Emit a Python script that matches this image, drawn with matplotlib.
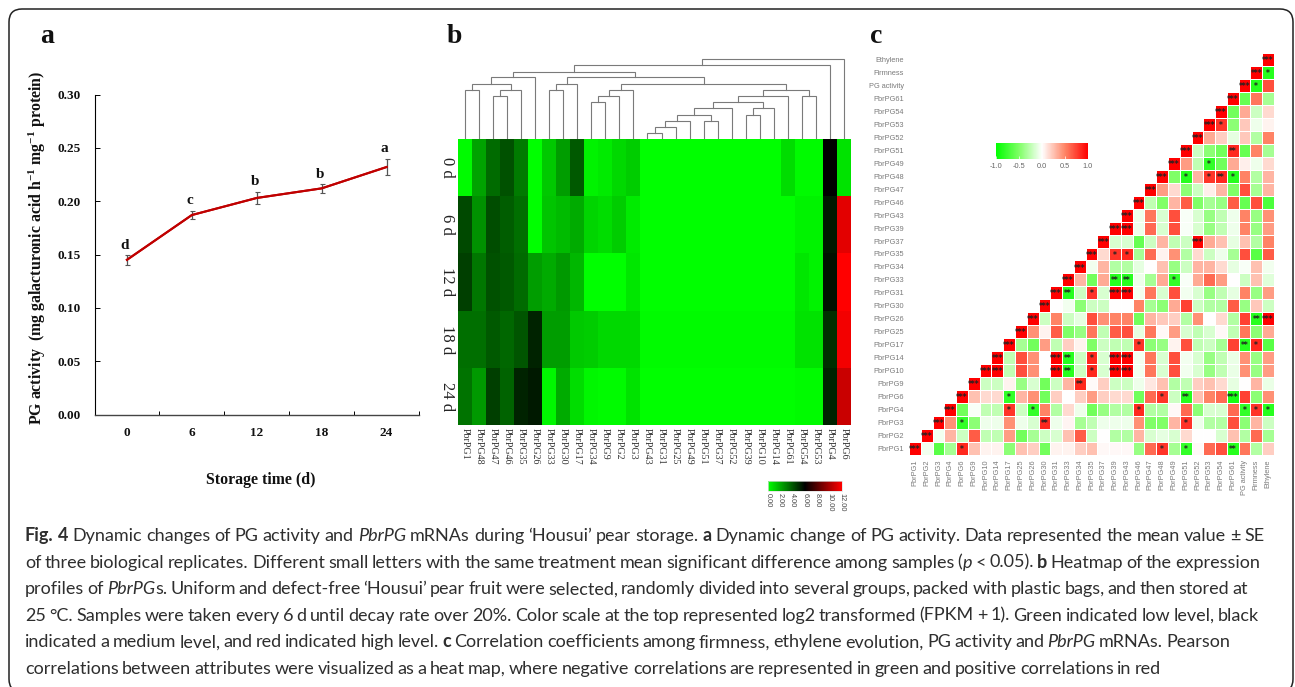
import re
import numpy as np
import matplotlib
matplotlib.use("Agg")
import matplotlib.pyplot as plt
from matplotlib.colors import LinearSegmentedColormap
from matplotlib.patches import FancyBboxPatch

W, H = 1295, 687
plt.rcParams['mathtext.default'] = 'regular'

# %% panel a data
storage_days = ['0', '6', '12', '18', '24']
pg_activity = [0.145, 0.187, 0.203, 0.212, 0.232]
pg_err = [0.0045, 0.004, 0.006, 0.004, 0.0078]
sig_letters = ['d', 'c', 'b', 'b', 'a']

# %% panel b data
hm_genes = ['PbrPG1', 'PbrPG48', 'PbrPG47', 'PbrPG46', 'PbrPG35', 'PbrPG26', 'PbrPG33',
            'PbrPG30', 'PbrPG17', 'PbrPG34', 'PbrPG9', 'PbrPG2', 'PbrPG3', 'PbrPG43',
            'PbrPG31', 'PbrPG25', 'PbrPG49', 'PbrPG51', 'PbrPG37', 'PbrPG52', 'PbrPG39',
            'PbrPG10', 'PbrPG14', 'PbrPG61', 'PbrPG54', 'PbrPG53', 'PbrPG4', 'PbrPG6']
hm_days = ['0 d', '6 d', '12 d', '18 d', '24 d']
hm_0d = [0.1, 2.2, 3.5, 4.1, 3.1, 0, 1.3, 2.3, 3.9, 0.3, 0.5, 0.9, 1.2,
         0, 0, 0, 0, 0, 0, 0, 0, 0, 0, 0.8, 0.1, 0.1, 6.0, 0.7]
hm_6d = [4.3, 2.6, 4.2, 3.8, 3.4, 0, 1.4, 1.6, 2.0, 1.0, 0.8, 1.2, 0.5,
         0, 0, 0, 0, 0, 0, 0, 0, 0, 0, 0, 0.3, 0.3, 5.4, 11.3]
hm_12d = [4.5, 3.2, 4.1, 3.9, 3.5, 2.3, 2.0, 2.4, 1.7, 0, 0, 0, 0.6,
          0, 0, 0, 0, 0, 0, 0, 0, 0, 0, 0, 0.6, 0.3, 5.6, 12.0]
hm_18d = [3.4, 3.4, 3.9, 3.6, 4.0, 5.2, 2.3, 2.3, 1.3, 1.2, 0.9, 0.9, 0.9,
          0.1, 0.1, 0.1, 0.1, 0.1, 0.1, 0.1, 0.1, 0.1, 0.1, 0.1, 0.7, 0.7, 4.9, 11.7]
hm_24d = [3.3, 2.4, 4.5, 3.7, 5.2, 5.4, 0.2, 2.0, 0.8, 0.2, 0.1, 0.1, 0.7,
          0, 0, 0, 0, 0, 0, 0, 0, 0, 0, 0, 0.1, 0.1, 5.2, 10.7]

# dendrogram: (left id, right id, height); leaves are 0-27, each merge gets the next id
dendro_merges = [(0, 1, 49), (2, 3, 42.7), (29, 4, 49), (28, 30, 55.3), (31, 5, 61.7),
                 (6, 7, 49), (33, 8, 55.3), (9, 10, 36.7), (35, 11, 42.7), (36, 12, 49),
                 (13, 14, 5.7), (38, 15, 11.7), (39, 16, 18.3), (17, 18, 18.3),
                 (40, 41, 24.3), (42, 19, 30.7), (20, 21, 24.3), (44, 22, 30.7),
                 (43, 45, 36.7), (46, 23, 42.7), (24, 25, 42.7), (47, 48, 49),
                 (37, 49, 55.3), (34, 50, 61.7), (32, 51, 67.3), (52, 26, 74), (53, 27, 79.7)]

# %% panel c data
corr_labels = ['PbrPG1', 'PbrPG2', 'PbrPG3', 'PbrPG4', 'PbrPG6', 'PbrPG9', 'PbrPG10', 'PbrPG14',
               'PbrPG17', 'PbrPG25', 'PbrPG26', 'PbrPG30', 'PbrPG31', 'PbrPG33', 'PbrPG34',
               'PbrPG35', 'PbrPG37', 'PbrPG39', 'PbrPG43', 'PbrPG46', 'PbrPG47', 'PbrPG48',
               'PbrPG49', 'PbrPG51', 'PbrPG52', 'PbrPG53', 'PbrPG54', 'PbrPG61',
               'PG activity', 'Firmness', 'Ethylene']
# upper triangle, each row starts on the diagonal
corr_rows = [
    [1, -.05, -.65, -.35, .85, .25, .05, .05, -.45, .25, .2, -.55, .05, .05, .2, .25, .03, .03, .03, -.4, .6, .8, -.35, -.8, .03, .6, .7, -.85, .55, -.3, .2],
    [1, -.05, .3, -.2, .65, -.25, -.25, .4, -.55, -.35, -.2, -.15, .25, .65, -.2, 0, -.3, -.3, .3, -.15, -.1, -.15, .15, 0, 0, -.15, .25, -.3, .6, -.35],
    [1, .45, -.8, -.45, -.07, -.07, .45, -.07, -.15, .85, -.07, .04, -.35, -.25, -.07, -.07, -.07, .45, -.5, -.5, .3, .8, -.07, -.3, -.3, .7, -.45, .3, -.2],
    [1, -.55, -.03, -.25, -.25, .8, -.2, -.8, .5, -.3, .15, -.07, -.55, -.4, -.3, -.3, .85, -.3, -.3, .03, .6, -.45, -.15, -.15, .6, -.8, .8, -.85],
    [1, .25, .15, .15, -.8, .3, .45, -.55, .2, 0, .2, .4, .2, .15, .15, -.55, .6, .8, -.2, -.85, .25, .5, .6, -.9, .75, -.45, .45],
    [1, -.2, -.2, .05, -.4, -.15, -.55, -.2, .3, .85, .02, .2, -.2, -.2, -.07, .1, .25, -.3, -.25, .2, .25, .15, -.1, 0, .3, -.08],
    [1, 1, -.25, .7, .45, 0, 1, -.85, -.2, .85, -.15, 1, 1, -.05, .55, -.15, .7, -.05, -.15, -.4, -.25, -.08, .45, -.4, .4],
    [1, -.25, .7, .45, 0, 1, -.85, -.2, .85, -.15, 1, 1, -.05, .55, -.15, .7, -.05, -.15, -.4, -.25, -.08, .45, -.4, .4],
    [1, -.35, -.55, .4, -.25, .2, .05, -.5, -.2, -.25, -.25, .8, -.45, -.4, .05, .7, -.25, -.2, -.35, .75, -.85, .85, -.65],
    [1, .45, .05, .65, -.5, -.4, .55, -.25, .65, .7, -.1, .55, .03, .4, -.15, -.25, -.15, .03, -.25, .55, -.45, .35],
    [1, -.2, .5, -.2, -.1, .7, .45, .5, .5, -.55, .3, .22, .2, -.3, .45, 0, .15, -.3, .75, -.85, 1],
    [1, 0, -.05, -.45, -.2, -.2, 0, 0, .5, -.35, -.45, .35, .75, -.2, -.3, -.3, .65, -.4, .22, -.2],
    [1, -.85, -.2, .8, -.15, 1, 1, -.05, .55, -.15, .7, -.05, -.15, -.4, -.25, -.1, .5, -.4, .4],
    [1, .3, -.55, .35, -.85, -.85, -.07, -.35, .35, -.8, -.03, .35, .6, .4, 0, -.2, .25, -.12],
    [1, -.05, .3, -.3, -.3, -.1, 0, .25, -.4, -.2, .3, .3, .15, -.1, -.03, .25, -.05],
    [1, .15, .8, .85, -.35, .6, .05, .45, -.3, .15, -.2, -.07, -.35, .7, -.65, .65],
    [1, -.15, -.15, -.6, -.2, .3, -.25, -.2, 1, .35, .25, -.1, .25, -.3, .5],
    [1, 1, -.07, .6, -.15, .7, -.03, -.15, -.4, -.25, -.07, .5, -.4, .4],
    [1, -.07, .55, -.15, .7, -.03, -.15, -.4, -.25, -.07, .5, -.4, .45],
    [1, -.25, -.5, .3, .65, -.5, -.35, -.4, .65, -.6, .7, -.7],
    [1, .4, .15, -.45, -.2, .07, .3, -.5, .7, -.35, .3],
    [1, -.5, -.85, .3, .8, .85, -.85, .5, -.3, .3],
    [1, .4, -.25, -.8, -.55, .35, .07, -.07, .15],
    [1, -.2, -.45, -.55, .85, -.6, .5, -.35],
    [1, .35, .2, -.1, .22, -.3, .5],
    [1, .8, -.45, .22, -.07, .05],
    [1, -.55, .35, -.2, .15],
    [1, -.6, .55, -.35],
    [1, -.85, .7],
    [1, -.85],
    [1],
]
# significance marks off the diagonal, the diagonal is always ***
corr_stars = {
    'PbrPG1': {'PbrPG6': '*', 'PbrPG48': '*', 'PbrPG51': '*', 'PbrPG61': '**'},
    'PbrPG3': {'PbrPG6': '*', 'PbrPG30': '**', 'PbrPG51': '*'},
    'PbrPG4': {'PbrPG17': '*', 'PbrPG26': '*', 'PbrPG46': '*', 'PG activity': '*', 'Firmness': '*', 'Ethylene': '*'},
    'PbrPG6': {'PbrPG17': '*', 'PbrPG48': '*', 'PbrPG51': '**', 'PbrPG61': '***'},
    'PbrPG9': {'PbrPG34': '**'},
    'PbrPG10': {'PbrPG14': '***', 'PbrPG31': '***', 'PbrPG33': '**', 'PbrPG35': '*', 'PbrPG39': '***', 'PbrPG43': '***'},
    'PbrPG14': {'PbrPG31': '***', 'PbrPG33': '**', 'PbrPG35': '*', 'PbrPG39': '***', 'PbrPG43': '***'},
    'PbrPG17': {'PbrPG46': '*', 'PG activity': '**', 'Firmness': '*'},
    'PbrPG26': {'Firmness': '**', 'Ethylene': '***'},
    'PbrPG31': {'PbrPG33': '**', 'PbrPG35': '*', 'PbrPG39': '***', 'PbrPG43': '***'},
    'PbrPG33': {'PbrPG39': '**', 'PbrPG43': '**', 'PbrPG49': '*'},
    'PbrPG35': {'PbrPG39': '*', 'PbrPG43': '*'},
    'PbrPG37': {'PbrPG52': '***'},
    'PbrPG39': {'PbrPG43': '***'},
    'PbrPG48': {'PbrPG51': '*', 'PbrPG53': '*', 'PbrPG54': '**', 'PbrPG61': '*'},
    'PbrPG49': {'PbrPG53': '*'},
    'PbrPG51': {'PbrPG61': '**'},
    'PbrPG53': {'PbrPG54': '*'},
    'PG activity': {'Firmness': '*'},
    'Firmness': {'Ethylene': '*'},
}

# %% caption, one list of (text, style) per printed line
caption_lines = [
    [('Fig. 4', 'b'), (' Dynamic changes of PG activity and ', 'n'), ('PbrPG', 'i'), (' mRNAs during ‘Housui’ pear storage. ', 'n'),
     ('a', 'b'), (' Dynamic change of PG activity. Data represented the mean value ± SE', 'n')],
    [('of three biological replicates. Different small letters with the same treatment mean significant difference among samples (', 'n'),
     ('p', 'i'), (' < 0.05). ', 'n'), ('b', 'b'), (' Heatmap of the expression', 'n')],
    [('profiles of ', 'n'), ('PbrPG', 'i'), ('s. Uniform and defect-free ‘Housui’ pear fruit were selected, randomly divided into several groups, packed with plastic bags, and then stored at', 'n')],
    [('25 °C. Samples were taken every 6 d until decay rate over 20%. Color scale at the top represented log2 transformed (FPKM + 1). Green indicated low level, black', 'n')],
    [('indicated a medium level, and red indicated high level. ', 'n'), ('c', 'b'), (' Correlation coefficients among firmness, ethylene evolution, PG activity and ', 'n'),
     ('PbrPG', 'i'), (' mRNAs. Pearson', 'n')],
    [('correlations between attributes were visualized as a heat map, where negative correlations are represented in green and positive correlations in red', 'n')],
]
caption_right = [1265, 1260, 1248, 1259, 1230, 1161]


def px_axes(fig, left, top, right, bottom):
    return fig.add_axes([left/W, 1-bottom/H, (right-left)/W, (bottom-top)/H])


def draw_caption(bg):
    rend = fig.canvas.get_renderer()
    styles = {'n': dict(), 'b': dict(weight='bold'), 'i': dict(style='italic')}
    for i, line in enumerate(caption_lines):
        tokens = []
        for txt, st in line:
            tokens += [(t, st) for t in re.findall(r'\s+|\S+', txt)]
        drawn = []
        total = 0
        n_space = 0
        for t, st in tokens:
            if t.isspace():
                n_space += 1
                continue
            tx = bg.text(0, 541+i*26.6, t, fontsize=CAP_SIZE, family='Lato', color='#2e2e2e',
                         va='baseline', ha='left', **styles[st])
            wd = tx.get_window_extent(rend).width
            drawn.append((tx, wd))
            total += wd
        gap = (caption_right[i]-25-total)/n_space
        x = 25
        k = 0
        for t, st in tokens:
            if t.isspace():
                x += gap
            else:
                drawn[k][0].set_x(x)
                x += drawn[k][1]
                k += 1


CAP_SIZE = 13.0
fig = plt.figure(figsize=(W/100, H/100), dpi=100)

# page layer in pixels
bg = fig.add_axes([0, 0, 1, 1])
bg.set_xlim(0, W)
bg.set_ylim(H, 0)
bg.axis('off')
bg.add_patch(FancyBboxPatch((9, 9), 1284, 683, boxstyle='round,pad=0,rounding_size=13',
                            fc='white', ec='#222222', lw=1.1, clip_on=True))
for letter, x in zip('abc', [40, 447, 870]):
    bg.text(x, 43, letter, fontsize=20, weight='bold', family='Liberation Serif', color='#111111', va='baseline')
draw_caption(bg)

# %% a
ax = px_axes(fig, 94.5, 94.5, 419, 414.5)
xpos = np.arange(len(storage_days))
ax.errorbar(xpos, pg_activity, yerr=pg_err, color='#c00000', lw=1.5, ecolor='#555555',
            elinewidth=0.9, capsize=1.8, capthick=0.8)
ax.plot(xpos, pg_activity, color='#c00000', lw=1.5)
ax.set_xlim(-0.5, 4.5)
ax.set_ylim(0, 0.30)
ax.set_yticks(np.arange(0, 0.31, 0.05))
ax.set_yticklabels(['%.2f' % v for v in np.arange(0, 0.31, 0.05)])
ax.set_xticks(np.arange(-0.5, 5))
ax.set_xticklabels([])
ax.set_xticks(xpos, minor=True)
ax.set_xticklabels(storage_days, minor=True)
ax.tick_params(axis='y', direction='in', length=3.5, width=0.7, pad=10)
ax.tick_params(axis='x', which='major', direction='in', length=3, width=0.7)
ax.tick_params(axis='x', which='minor', length=0, pad=9)
for lb in ax.get_xticklabels(minor=True) + ax.get_yticklabels():
    lb.set(family='Liberation Serif', weight='bold', fontsize=9.5, color='#111111')
ax.spines[['top', 'right']].set_visible(False)
ax.spines['left'].set_linewidth(0.8)
ax.spines['bottom'].set_linewidth(1.0)
ax.spines['bottom'].set_color('#444444')
for x, y, e, s in zip(xpos, pg_activity, pg_err, sig_letters):
    ax.annotate(s, (x, y+e), xytext=(-1.5, 2.5), textcoords='offset points', ha='center', va='bottom',
                family='Liberation Serif', weight='bold', fontsize=11, color='#111111')
bg.text(37, 248, 'PG activity  (mg galacturonic acid h$^{-1}$ mg$^{-1}$ protein)', rotation=90, ha='center', va='center',
        family='Liberation Serif', weight='bold', fontsize=11.4, color='#111111')
bg.text(261, 480, 'Storage time (d)', ha='center', va='center', family='Liberation Serif', weight='bold',
        fontsize=11.4, color='#111111')

# %% b heatmap
hm_cmap = LinearSegmentedColormap.from_list('gkr', ['#00ff00', '#000000', '#ff0000'])
hm_values = np.array([hm_0d, hm_6d, hm_12d, hm_18d, hm_24d])
ax_h = px_axes(fig, 458, 139, 851, 425)
mesh = ax_h.pcolormesh(hm_values, cmap=hm_cmap, vmin=0, vmax=12)
ax_h.set_ylim(5, 0)
ax_h.set_xticks(np.arange(len(hm_genes))+0.5)
ax_h.set_xticklabels(hm_genes, rotation=-90, family='Liberation Serif', fontsize=7.2, color='#333333')
ax_h.set_yticks(np.arange(len(hm_days))+0.5)
ax_h.set_yticklabels(hm_days, rotation=-90, va='center', family='Liberation Serif', fontsize=12, color='#222222')
ax_h.tick_params(length=0, pad=2)
for s in ax_h.spines.values():
    s.set_visible(False)

# dendrogram above the heatmap
ax_d = px_axes(fig, 458, 49, 851, 139)
ax_d.set_xlim(0, len(hm_genes))
ax_d.set_ylim(0, 90)
ax_d.axis('off')
node_x = [i+0.5 for i in range(len(hm_genes))]
node_h = [0]*len(hm_genes)
for a, b, h in dendro_merges:
    ax_d.plot([node_x[a], node_x[a], node_x[b], node_x[b]], [node_h[a], h, h, node_h[b]],
              color='#7a7a7a', lw=0.8, solid_joinstyle='miter')
    node_x.append((node_x[a]+node_x[b])/2)
    node_h.append(h)

cax_h = px_axes(fig, 768, 481, 842, 491)
cb_h = fig.colorbar(mesh, cax=cax_h, orientation='horizontal')
cb_h.set_ticks(np.arange(0, 13, 2))
cb_h.set_ticklabels(['%.2f' % v for v in np.arange(0, 13, 2)], rotation=-90, fontsize=5.3,
                    family='Liberation Sans', color='#444444')
cax_h.tick_params(length=0, pad=1.5)
cb_h.outline.set_edgecolor('#dddddd')
cb_h.outline.set_linewidth(0.5)

# %% c correlation triangle
corr_cmap = LinearSegmentedColormap.from_list('gwr', ['#00ff00', '#80ff66', '#ffffff', '#ff8566', '#ff0000'])
n = len(corr_labels)
corr_values = np.full((n, n), np.nan)
for i, row in enumerate(corr_rows):
    corr_values[i, i:i+len(row)] = row
ax_c = px_axes(fig, 909, 53, 1274, 455)
mesh_c = ax_c.pcolormesh(np.ma.masked_invalid(corr_values), cmap=corr_cmap, vmin=-1, vmax=1,
                         edgecolors='white', linewidth=0.5)
ax_c.set_xticks(np.arange(n)+0.5)
ax_c.set_xticklabels(corr_labels, rotation=90, family='Liberation Sans', fontsize=5.3, color='#7a7a7a')
ax_c.set_yticks(np.arange(n)+0.5)
ax_c.set_yticklabels(corr_labels, family='Liberation Sans', fontsize=5.3, color='#7a7a7a')
ax_c.tick_params(length=0, pad=3.5)
for s in ax_c.spines.values():
    s.set_visible(False)
for i in range(n):
    ax_c.text(i+0.5, i+0.42, '***', ha='center', va='center', fontsize=5.5, weight='bold', color='#222222')
for r, marks in corr_stars.items():
    for c, mark in marks.items():
        ax_c.text(corr_labels.index(c)+0.5, corr_labels.index(r)+0.42, mark, ha='center', va='center',
                  fontsize=5.5, weight='bold', color='#222222')

cax_c = px_axes(fig, 996, 143, 1088, 159)
cb_c = fig.colorbar(mesh_c, cax=cax_c, orientation='horizontal')
cb_c.set_ticks([-1, -0.5, 0, 0.5, 1])
cb_c.set_ticklabels(['-1.0', '-0.5', '0.0', '0.5', '1.0'], fontsize=5.3, family='Liberation Sans', color='#666666')
cax_c.tick_params(direction='in', color='white', length=2, width=0.5, pad=3)
cb_c.outline.set_visible(False)
bg.text(1042, 132.5, 'Spearman\nCorrelation', ha='center', va='center', family='Liberation Sans', fontsize=5.4,
        color='#444444', linespacing=1.25)

fig.savefig('out.png', dpi=100)
